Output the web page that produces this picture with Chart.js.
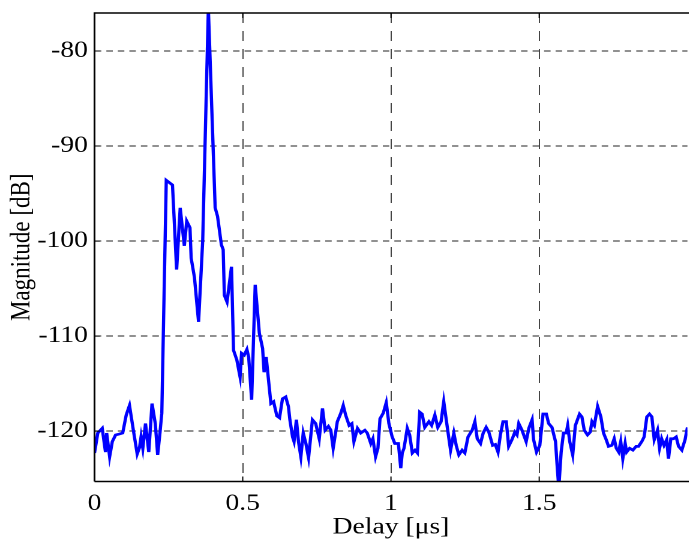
<!DOCTYPE html>
<html>
<head>
<meta charset="utf-8">
<script src="https://cdn.jsdelivr.net/npm/chart.js@4/dist/chart.umd.min.js"></script>
<style>
  html, body { margin: 0; padding: 0; background: #fff; overflow: hidden; }
  /* a figura original está esticada na horizontal (~1.2x) */
  #wrap { width: 574.17px; height: 545px; position: relative; transform: scaleX(1.2); transform-origin: 0 0; }
</style>
</head>
<body>
<div id="wrap"><canvas id="grafico"></canvas></div>
<script>
// valores
const delay = [
  0.000, 0.011, 0.026, 0.037, 0.041, 0.051, 0.060, 0.071, 0.084, 0.095,
  0.107, 0.118, 0.131, 0.144, 0.152, 0.157, 0.163, 0.172, 0.183, 0.194,
  0.205, 0.213, 0.221, 0.227, 0.242, 0.263, 0.277, 0.289, 0.303, 0.311,
  0.322, 0.326, 0.337, 0.351, 0.365, 0.384, 0.407, 0.415, 0.428, 0.434,
  0.438, 0.447, 0.462, 0.469, 0.480, 0.491, 0.496, 0.505, 0.514, 0.520,
  0.530, 0.542, 0.556, 0.567, 0.572, 0.579, 0.595, 0.604, 0.615, 0.624,
  0.634, 0.645, 0.654, 0.659, 0.668, 0.673, 0.681, 0.688, 0.696, 0.704,
  0.713, 0.722, 0.735, 0.746, 0.758, 0.769, 0.778, 0.789, 0.797, 0.805,
  0.819, 0.831, 0.839, 0.847, 0.859, 0.868, 0.875, 0.887, 0.898, 0.912,
  0.920, 0.932, 0.939, 0.948, 0.956, 0.963, 0.974, 0.984, 0.993, 1.004,
  1.013, 1.025, 1.033, 1.038, 1.044, 1.055, 1.063, 1.072, 1.081, 1.089,
  1.097, 1.105, 1.114, 1.128, 1.137, 1.148, 1.158, 1.169, 1.178, 1.190,
  1.201, 1.212, 1.220, 1.229, 1.240, 1.249, 1.260, 1.274, 1.283, 1.291,
  1.302, 1.311, 1.321, 1.330, 1.343, 1.352, 1.361, 1.369, 1.378, 1.389,
  1.397, 1.408, 1.418, 1.425, 1.431, 1.442, 1.456, 1.465, 1.476, 1.481,
  1.491, 1.502, 1.513, 1.524, 1.532, 1.543, 1.555, 1.560, 1.566, 1.574,
  1.582, 1.591, 1.596, 1.603, 1.613, 1.622, 1.636, 1.644, 1.652, 1.663,
  1.672, 1.678, 1.686, 1.697, 1.708, 1.717, 1.726, 1.734, 1.745, 1.753,
  1.760, 1.768, 1.775, 1.782, 1.790, 1.795, 1.805, 1.816, 1.827, 1.835,
  1.846, 1.854, 1.863, 1.872, 1.880, 1.888, 1.899, 1.906, 1.913, 1.921,
  1.930, 1.936, 1.944, 1.953, 1.962, 1.970, 1.981, 1.992, 2.000
];
const magnitude = [
  -122.3, -120.2, -119.7, -122.2, -120.2, -122.7, -121.1, -120.4, -120.3, -120.2,
  -118.3, -117.3, -119.9, -122.4, -121.7, -120.6, -121.8, -119.2, -122.2, -117.1,
  -119.2, -122.5, -120.1, -118.1, -93.6, -94.1, -103.0, -96.5, -100.5, -97.9,
  -98.6, -101.8, -103.8, -108.5, -99.9, -75.5, -96.5, -97.4, -100.4, -100.9,
  -105.7, -106.4, -102.7, -111.5, -112.5, -114.3, -111.8, -112.0, -111.4, -112.2,
  -116.7, -104.6, -109.7, -111.3, -113.8, -112.2, -117.1, -116.9, -118.4, -118.6,
  -116.6, -116.4, -117.4, -118.8, -120.6, -121.1, -118.8, -121.1, -122.7, -120.2,
  -121.3, -122.8, -118.8, -119.2, -120.8, -117.6, -119.9, -119.5, -119.9, -121.8,
  -119.0, -118.1, -117.3, -118.3, -119.4, -119.2, -121.1, -119.7, -120.2, -119.9,
  -120.2, -121.3, -120.8, -122.7, -121.8, -118.7, -118.1, -117.0, -119.2, -120.6,
  -121.3, -121.3, -123.9, -122.3, -121.8, -119.7, -120.4, -122.3, -122.0, -122.3,
  -118.0, -118.2, -119.6, -119.0, -119.4, -118.3, -119.6, -119.0, -116.9, -119.6,
  -122.0, -120.2, -121.5, -122.5, -122.0, -122.3, -120.6, -119.9, -119.0, -120.8,
  -121.3, -120.2, -119.6, -120.1, -121.5, -121.4, -122.2, -120.4, -119.0, -119.0,
  -121.6, -120.9, -120.1, -120.4, -119.2, -119.9, -121.1, -119.7, -118.8, -120.9,
  -122.2, -121.5, -118.2, -118.2, -119.2, -119.6, -121.1, -123.4, -126.0, -122.2,
  -120.2, -120.2, -119.4, -121.1, -122.5, -119.4, -118.2, -118.5, -119.9, -120.4,
  -120.1, -119.0, -119.4, -117.4, -118.5, -120.2, -120.9, -121.6, -121.5, -120.8,
  -121.8, -122.2, -121.1, -122.9, -121.3, -122.2, -121.8, -122.0, -121.6, -121.6,
  -121.1, -120.6, -118.5, -118.2, -118.5, -120.9, -119.9, -121.8, -120.8, -121.5,
  -120.9, -122.9, -120.8, -120.8, -120.6, -121.6, -122.0, -120.9, -119.6
];
const xTicks = [0, 0.5, 1, 1.5];
const yTicks = [-120, -110, -100, -90, -80];

const fonte = { family: "'Liberation Serif', 'Times New Roman', serif", size: 23 };

// caixa do eixo e marcas para dentro (estilo MATLAB)
const caixaEixos = {
  id: "caixaEixos",
  afterDraw(chart) {
    const { ctx, chartArea: a, scales } = chart;
    ctx.save();
    ctx.strokeStyle = "#000";
    ctx.lineWidth = 1.5;
    ctx.beginPath();
    ctx.moveTo(a.left, a.bottom);
    ctx.lineTo(a.left, a.top);
    ctx.lineTo(a.right + 2, a.top);
    ctx.moveTo(a.left, a.bottom);
    ctx.lineTo(a.right + 2, a.bottom);
    ctx.stroke();
    ctx.lineWidth = 1;
    ctx.beginPath();
    xTicks.forEach((v) => {
      const px = scales.x.getPixelForValue(v);
      ctx.moveTo(px, a.bottom);
      ctx.lineTo(px, a.bottom - 5);
      ctx.moveTo(px, a.top);
      ctx.lineTo(px, a.top + 5);
    });
    yTicks.forEach((v) => {
      const py = scales.y.getPixelForValue(v);
      ctx.moveTo(a.left, py);
      ctx.lineTo(a.left + 4.5, py);
    });
    ctx.stroke();
    ctx.restore();
  },
};

new Chart(document.getElementById("grafico"), {
  type: "line",
  data: {
    datasets: [
      {
        data: delay.map((t, i) => ({ x: t, y: magnitude[i] })),
        borderColor: "#0000ff",
        borderWidth: 2.7,
        pointRadius: 0,
        tension: 0,
        fill: false,
      },
    ],
  },
  options: {
    responsive: true,
    maintainAspectRatio: false,
    animation: false,
    devicePixelRatio: 2,
    layout: { padding: 0 },
    plugins: { legend: { display: false }, tooltip: { enabled: false } },
    scales: {
      x: {
        type: "linear",
        min: 0,
        max: 2,
        afterBuildTicks: (s) => { s.ticks = xTicks.map((v) => ({ value: v })); },
        afterFit: (s) => { s.height = 63.5; s.paddingRight = 0; },
        grid: {
          color: "#444",
          lineWidth: 1,
          drawTicks: false,
        },
        border: { display: false, dash: [10, 8] },
        ticks: {
          padding: 8.5,
          color: "#000",
          font: fonte,
          callback: (v) => String(v),
        },
        title: {
          display: true,
          text: "Delay [\u03bcs]",
          color: "#000",
          font: fonte,
          padding: { top: 0, bottom: 3.5 },
        },
      },
      y: {
        min: -125.3,
        max: -76,
        afterBuildTicks: (s) => { s.ticks = yTicks.map((v) => ({ value: v })); },
        afterFit: (s) => { s.width = 78.75; s.paddingTop = 13; s.paddingBottom = 0; },
        grid: {
          color: "#222",
          lineWidth: 1,
          drawTicks: false,
        },
        border: { display: false, dash: [5.4, 4.2] },
        ticks: {
          padding: 5.5,
          color: "#000",
          font: fonte,
        },
        title: {
          display: true,
          text: "Magnitude [dB]",
          color: "#000",
          font: fonte,
          padding: { top: 4.5, bottom: 0 },
        },
      },
    },
  },
  plugins: [caixaEixos],
});
</script>
</body>
</html>
